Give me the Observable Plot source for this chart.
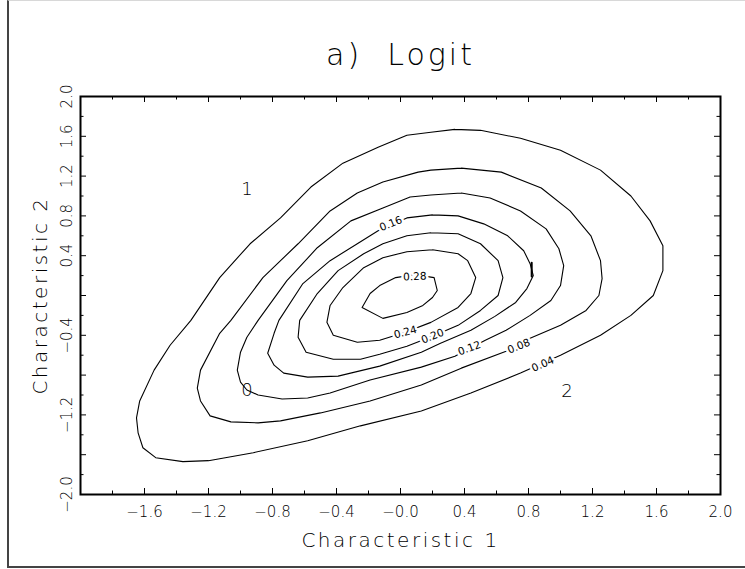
<!DOCTYPE html>
<html><head><meta charset="utf-8">
<script src="https://cdn.jsdelivr.net/npm/d3@7"></script>
<script src="https://cdn.jsdelivr.net/npm/@observablehq/plot@0.6"></script>
<style>
body{margin:0;background:#fff;}
#wrap{position:relative;width:745px;height:569px;overflow:hidden;}
#border{position:absolute;left:7px;top:0;width:760px;height:565px;border-left:2px solid #444;border-top:1px solid #d8d8d8;border-bottom:2px solid #444;pointer-events:none}
svg text{white-space:pre;}
</style></head><body><div id="wrap"><div id="border"></div></div>
<script>
// contour levels
const levels = [0.04, 0.08, 0.12, 0.16, 0.20, 0.24, 0.28];
// contour polylines [x, y] (Characteristic 1, Characteristic 2)
const c004 = [[0.34,1.67],[0.50,1.66],[0.75,1.58],[1.00,1.46],[1.25,1.26],[1.44,1.00],[1.56,0.75],[1.64,0.50],[1.64,0.25],[1.58,0.00],[1.44,-0.20],[1.25,-0.40],[1.00,-0.60],[0.75,-0.78],[0.44,-0.98],[0.13,-1.16],[-0.25,-1.31],[-0.58,-1.46],[-0.92,-1.58],[-1.20,-1.66],[-1.36,-1.67],[-1.53,-1.63],[-1.61,-1.53],[-1.64,-1.38],[-1.65,-1.23],[-1.63,-1.06],[-1.54,-0.75],[-1.44,-0.50],[-1.31,-0.25],[-1.13,0.18],[-0.94,0.52],[-0.75,0.78],[-0.56,1.09],[-0.36,1.33],[-0.14,1.49],[0.04,1.61],[0.19,1.64]];
const c008 = [[0.38,1.28],[0.63,1.24],[0.88,1.08],[1.06,0.85],[1.19,0.60],[1.25,0.35],[1.26,0.17],[1.24,0.00],[1.16,-0.15],[1.00,-0.30],[0.81,-0.43],[0.66,-0.56],[0.38,-0.73],[0.13,-0.90],[-0.19,-1.06],[-0.50,-1.18],[-0.75,-1.26],[-0.89,-1.28],[-1.06,-1.27],[-1.19,-1.21],[-1.25,-1.06],[-1.27,-0.93],[-1.25,-0.75],[-1.13,-0.38],[-1.06,-0.25],[-0.86,0.18],[-0.64,0.52],[-0.44,0.85],[-0.27,1.03],[-0.11,1.14],[0.11,1.24],[0.19,1.26]];
const c012 = [[0.38,1.03],[0.56,0.98],[0.75,0.85],[0.91,0.67],[0.99,0.47],[1.02,0.30],[1.00,0.10],[0.94,-0.05],[0.81,-0.20],[0.66,-0.35],[0.53,-0.45],[0.34,-0.61],[0.13,-0.72],[-0.19,-0.85],[-0.44,-0.98],[-0.58,-1.03],[-0.74,-1.04],[-0.89,-1.00],[-0.96,-0.95],[-1.00,-0.87],[-1.02,-0.75],[-1.00,-0.57],[-0.96,-0.42],[-0.89,-0.25],[-0.71,0.15],[-0.52,0.48],[-0.31,0.75],[-0.11,0.88],[0.06,0.99],[0.19,1.01]];
const c016 = [[0.20,0.81],[0.36,0.80],[0.52,0.72],[0.67,0.60],[0.77,0.45],[0.81,0.32],[0.83,0.20],[0.79,0.07],[0.72,-0.07],[0.59,-0.21],[0.44,-0.35],[0.25,-0.48],[0.13,-0.57],[-0.13,-0.71],[-0.39,-0.81],[-0.58,-0.82],[-0.73,-0.78],[-0.79,-0.70],[-0.83,-0.58],[-0.79,-0.38],[-0.76,-0.25],[-0.61,0.12],[-0.44,0.35],[-0.27,0.52],[-0.14,0.65],[0.04,0.78]];
const c020 = [[0.19,0.63],[0.36,0.62],[0.50,0.52],[0.61,0.35],[0.64,0.18],[0.61,0.00],[0.50,-0.15],[0.36,-0.30],[0.20,-0.41],[0.04,-0.51],[-0.13,-0.59],[-0.25,-0.64],[-0.42,-0.64],[-0.59,-0.57],[-0.64,-0.42],[-0.63,-0.25],[-0.52,0.02],[-0.39,0.25],[-0.23,0.42],[-0.11,0.52],[0.04,0.60]];
const c024 = [[0.20,0.46],[0.36,0.42],[0.42,0.35],[0.47,0.18],[0.44,0.02],[0.36,-0.12],[0.19,-0.27],[0.03,-0.37],[-0.13,-0.45],[-0.27,-0.47],[-0.42,-0.40],[-0.46,-0.27],[-0.44,-0.10],[-0.36,0.08],[-0.23,0.28],[-0.11,0.38],[0.04,0.44]];
const c028 = [[0.21,0.18],[0.23,0.05],[0.20,-0.02],[0.14,-0.10],[0.04,-0.17],[-0.11,-0.23],[-0.24,-0.12],[-0.19,0.02],[-0.13,0.10],[-0.03,0.18],[0.09,0.21]];
const contours = [c004, c008, c012, c016, c020, c024, c028];
// small vertical mark on the 0.16 contour
const mark016 = [[0.82,0.33],[0.82,0.19]];
// contour label placement: value, x, y, angle
const labelText = ["0.04", "0.08", "0.12", "0.16", "0.20", "0.24", "0.28"];
const labelX = [0.89, 0.74, 0.43, -0.06, 0.20, 0.03, 0.09];
const labelY = [-0.69, -0.51, -0.53, 0.72, -0.41, -0.37, 0.19];
const labelAngle = [-24, -22, -20, -22, -22, -15, -2];
// region labels
const regionText = ["1", "0", "2"];
const regionX = [-0.96, -0.96, 1.04];
const regionY = [1.07, -0.95, -0.96];
// axes
const xTickMinor = [-1.8,-1.4,-1.0,-0.6,-0.2,0.2,0.6,1.0,1.4,1.8];
const xTickMajor = [-1.6,-1.2,-0.8,-0.4,0.0,0.4,0.8,1.2,1.6];
const yTickMinor = [-1.8,-1.4,-1.0,-0.6,-0.2,0.2,0.6,1.0,1.4,1.8];
const yTickMajor = [-1.6,-1.2,-0.8,-0.4,0.0,0.4,0.8,1.2,1.6];
const xLabelValues = [-1.6,-1.2,-0.8,-0.4,0.0,0.4,0.8,1.2,1.6,2.0];
const xLabels = ["−1.6","−1.2","−0.8","−0.4","−0.0","0.4","0.8","1.2","1.6","2.0"];
const yLabelValues = [2.0,1.6,1.2,0.8,0.4,-0.4,-1.2,-2.0];
const yLabels = ["2.0","1.6","1.2","0.8","0.4","−0.4","−1.2","−2.0"];
const title = "a)  Logit";
const xTitle = "Characteristic 1";
const yTitle = "Characteristic 2";

const W = 745, H = 569, mL = 80, mR = 25, mT = 96, mB = 75;
const kx = 4 / (W - mL - mR), ky = 4 / (H - mT - mB);
const rows = [];
contours.forEach((c, i) => { [...c, c[0]].forEach(p => rows.push({x: p[0], y: p[1], level: levels[i]})); });
const labels = labelText.map((t, i) => ({t, x: labelX[i], y: labelY[i], a: labelAngle[i]}));
const regions = regionText.map((t, i) => ({t, x: regionX[i], y: regionY[i]}));
const font = "DejaVu Sans";
const thin = {fontWeight: 200, fill: "black"};
const tick = (vals, len, side) => {
  if (side === "bottom") return Plot.ruleX(vals, {x: d => d, y1: -2, y2: -2 + len * ky, stroke: "black", strokeWidth: 1});
  if (side === "top") return Plot.ruleX(vals, {x: d => d, y1: 2, y2: 2 - len * ky, stroke: "black", strokeWidth: 1});
  if (side === "left") return Plot.ruleY(vals, {y: d => d, x1: -2, x2: -2 + len * kx, stroke: "black", strokeWidth: 1});
  return Plot.ruleY(vals, {y: d => d, x1: 2, x2: 2 - len * kx, stroke: "black", strokeWidth: 1});
};
const chart = Plot.plot({
  width: W, height: H, marginLeft: mL, marginRight: mR, marginTop: mT, marginBottom: mB,
  style: {fontFamily: font, background: "transparent"},
  x: {domain: [-2, 2], axis: null},
  y: {domain: [-2, 2], axis: null},
  marks: [
    Plot.line(rows, {x: "x", y: "y", z: "level", stroke: "black", strokeWidth: 1.1, curve: "linear"}),
    Plot.line(mark016, {x: d => d[0], y: d => d[1], stroke: "black", strokeWidth: 2}),
    Plot.text(labels, {x: "x", y: "y", text: "t", rotate: "a", fontSize: 10.5, fill: "black", stroke: "white", strokeWidth: 5, paintOrder: "stroke"}),
    Plot.text(regions, {x: "x", y: "y", text: "t", fontSize: 18, ...thin}),
    ...["bottom", "top"].flatMap(s => [tick(xTickMinor, 3.5, s), tick(xTickMajor, 6, s)]),
    ...["left", "right"].flatMap(s => [tick(yTickMinor, 3.5, s), tick(yTickMajor, 6, s)]),
    Plot.frame({stroke: "black", strokeWidth: 2}),
    Plot.text(xLabelValues, {x: d => d, y: -2, dy: 18, text: (d, i) => xLabels[i], fontSize: 15, ...thin}),
    Plot.text(yLabelValues, {x: -2, y: d => d, dx: -13, rotate: -90, text: (d, i) => yLabels[i], fontSize: 15, ...thin}),
    Plot.text([title], {frameAnchor: "top", dy: -53, text: d => d, fontSize: 30, textAnchor: "middle", ...thin}),
    Plot.text([xTitle], {frameAnchor: "bottom", dy: 52, text: d => d, fontSize: 20, textAnchor: "middle", ...thin}),
    Plot.text([yTitle], {frameAnchor: "left", dx: -40, rotate: -90, text: d => d, fontSize: 20, textAnchor: "middle", ...thin})
  ]
});
const spacing = new Map([[title, "3px"], [xTitle, "2.5px"], [yTitle, "2.5px"]]);
chart.querySelectorAll("text").forEach(t => {
  const s = spacing.get(t.textContent);
  if (s) t.style.letterSpacing = s;
});
document.getElementById("wrap").appendChild(chart);
</script>
</body></html>
